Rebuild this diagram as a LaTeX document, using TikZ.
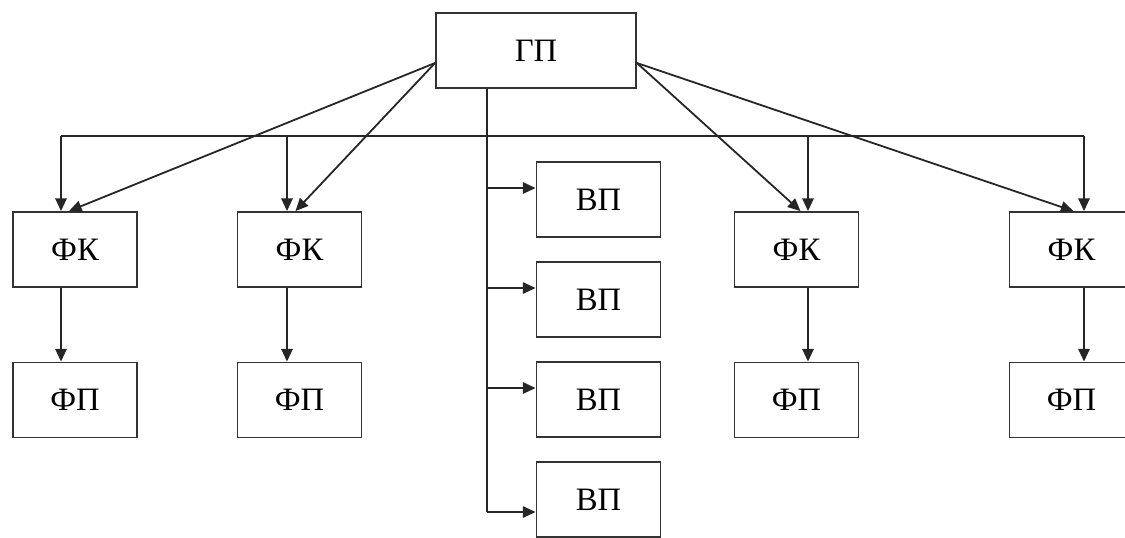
\documentclass[tikz,border=0pt]{standalone}
\usepackage{fontspec}
\setmainfont{Liberation Serif}
\usetikzlibrary{arrows.meta,calc}
\begin{document}
\begin{tikzpicture}[x=0.75pt,y=-0.75pt,
  line width=1.35pt, draw=black!85,
  box/.style={draw=black!80, line width=1.4pt, rectangle, inner sep=0pt,
    minimum width=93pt, minimum height=56.25pt,
    font=\fontsize{24.5}{29}\selectfont},
  bigbox/.style={box, minimum width=150pt},
  arr/.style={-{Triangle[length=9.5pt,width=8.5pt]}}]
\useasboundingbox (0,0) rectangle (1125,537);
% nodes
\node[bigbox] (gp) at (536,50.5) {ГП};
\node[box] (fk1) at (75,249.5) {ФК};
\node[box] (fk2) at (299.5,249.5) {ФК};
\node[box] (fk3) at (796.5,249.5) {ФК};
\node[box] (fk4) at (1071.5,249.5) {ФК};
\node[box] (fp1) at (75,400) {ФП};
\node[box] (fp2) at (299.5,400) {ФП};
\node[box] (fp3) at (796.5,400) {ФП};
\node[box] (fp4) at (1071.5,400) {ФП};
\node[box] (vp1) at (598.5,199.5) {ВП};
\node[box] (vp2) at (598.5,299.5) {ВП};
\node[box] (vp3) at (598.5,399.5) {ВП};
\node[box] (vp4) at (598.5,499.5) {ВП};
% bus coordinates
\coordinate (b1) at (61,136);
\coordinate (b2) at (287,136);
\coordinate (b3) at (808,136);
\coordinate (b4) at (1084,136);
\coordinate (gl) at ($(gp.west)+(0,12.5)$);
\coordinate (gr) at ($(gp.east)+(0,12.5)$);
\coordinate (v) at (487,88);
% bus
\draw (b1) -- (b4);
\draw[arr] (b1) -- (b1 |- fk1.north);
\draw[arr] (b2) -- (b2 |- fk2.north);
\draw[arr] (b3) -- (b3 |- fk3.north);
\draw[arr] (b4) -- (b4 |- fk4.north);
% diagonals
\draw[arr] (gl) -- ($(fk1.north)+(-6,0)$);
\draw[arr] (gl) -- ($(fk2.north)+(-4,0)$);
\draw[arr] (gr) -- ($(fk3.north)+(4,0)$);
\draw[arr] (gr) -- ($(fk4.north)+(2,0)$);
% FK -> FP
\draw[arr] (b1 |- fk1.south) -- (b1 |- fp1.north);
\draw[arr] (b2 |- fk2.south) -- (b2 |- fp2.north);
\draw[arr] (b3 |- fk3.south) -- (b3 |- fp3.north);
\draw[arr] (b4 |- fk4.south) -- (b4 |- fp4.north);
% vertical from GP to VP
\coordinate (y1) at ($(vp1.west)+(0,-11.5)$);
\coordinate (y2) at ($(vp2.west)+(0,-11.5)$);
\coordinate (y3) at ($(vp3.west)+(0,-11.5)$);
\coordinate (y4) at ($(vp4.west)+(0,12.5)$);
\draw (v |- gp.south) -- (v |- y4);
\draw[arr] (v |- y1) -- (y1);
\draw[arr] (v |- y2) -- (y2);
\draw[arr] (v |- y3) -- (y3);
\draw[arr] (v |- y4) -- (y4);
\end{tikzpicture}
\end{document}
